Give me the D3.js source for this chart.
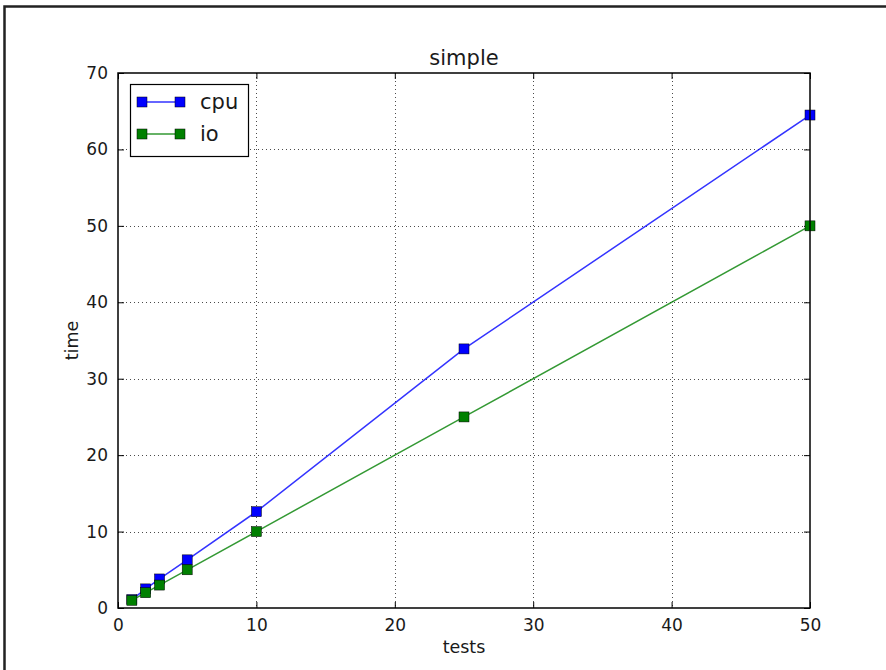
<!doctype html>
<html lang="en">
  <head>
    <meta charset="utf-8">
    <title>simple</title>
    <script src="https://d3js.org/d3.v7.min.js"></script>
    <style>
      body { margin: 0; background: #fff; }
      text { font-family: "DejaVu Sans", sans-serif; fill: #1a1a1a; }
    </style>
  </head>
  <body>
    <svg width="886" height="670"></svg>

    <script>
      var tests = [1, 2, 3, 5, 10, 25, 50];
      var cpuTimes = [1.1, 2.5, 3.8, 6.3, 12.6, 33.9, 64.5];
      var ioTimes = [1, 2, 3, 5, 10, 25, 50];
      var xTicks = [0, 10, 20, 30, 40, 50];
      var yTicks = [0, 10, 20, 30, 40, 50, 60, 70];

      var series = [
        { name: 'cpu', values: cpuTimes, color: '#0000ff' },
        { name: 'io', values: ioTimes, color: '#008000' }
      ];

      var svg = d3.select('svg');

      // outer frame of the picture (top and left edges only)
      svg.append('path')
          .attr('d', 'M4.5,670 V6.5 H886')
          .attr('fill', 'none').attr('stroke', '#222').attr('stroke-width', 2.5);

      var plotLeft = 118, plotRight = 810, plotTop = 73, plotBottom = 608;

      var x = d3.scaleLinear().domain([0, 50]).range([plotLeft, plotRight]);
      var y = d3.scaleLinear().domain([0, 70]).range([plotBottom, plotTop]);

      // grid
      var grid = svg.append('g')
          .attr('stroke', '#000').attr('stroke-width', 1)
          .attr('stroke-dasharray', '1,3').attr('opacity', 0.7);
      grid.selectAll('.gx').data(xTicks.slice(1, -1)).enter().append('line')
          .attr('x1', function(d){ return Math.round(x(d)) + 0.5; })
          .attr('x2', function(d){ return Math.round(x(d)) + 0.5; })
          .attr('y1', plotTop).attr('y2', plotBottom);
      grid.selectAll('.gy').data(yTicks.slice(1, -1)).enter().append('line')
          .attr('y1', function(d){ return Math.round(y(d)) + 0.5; })
          .attr('y2', function(d){ return Math.round(y(d)) + 0.5; })
          .attr('x1', plotLeft).attr('x2', plotRight);

      // axes with inward ticks on all sides
      var tickStyle = function(g){
        g.select('.domain').remove();
        g.selectAll('text').style('font-size', '17px').style('font-family', '"DejaVu Sans", sans-serif')
            .attr('fill', '#1a1a1a');
        g.selectAll('line').attr('stroke', '#000');
      };

      svg.append('g').attr('transform', 'translate(0,' + plotBottom + ')')
          .call(d3.axisBottom(x).tickValues(xTicks).tickSizeInner(-6).tickPadding(11).tickSizeOuter(0))
          .call(tickStyle);
      svg.append('g').attr('transform', 'translate(0,' + plotTop + ')')
          .call(d3.axisTop(x).tickValues(xTicks).tickSizeInner(-6).tickFormat('').tickSizeOuter(0))
          .call(tickStyle);
      svg.append('g').attr('transform', 'translate(' + plotLeft + ',0)')
          .call(d3.axisLeft(y).tickValues(yTicks).tickSizeInner(-6).tickPadding(10).tickSizeOuter(0))
          .call(tickStyle);
      svg.append('g').attr('transform', 'translate(' + plotRight + ',0)')
          .call(d3.axisRight(y).tickValues(yTicks).tickSizeInner(-6).tickFormat('').tickSizeOuter(0))
          .call(tickStyle);

      // lines and markers
      var line = d3.line()
          .x(function(d){ return x(d[0]); })
          .y(function(d){ return y(d[1]); });

      series.forEach(function(s){
        var pts = tests.map(function(t, i){ return [t, s.values[i]]; });
        svg.append('path')
            .attr('d', line(pts))
            .attr('fill', 'none')
            .attr('stroke', s.color)
            .attr('stroke-opacity', 0.8)
            .attr('stroke-width', 1.5);
        svg.append('g').selectAll('rect').data(pts).enter().append('rect')
            .attr('x', function(d){ return x(d[0]) - 5; })
            .attr('y', function(d){ return y(d[1]) - 5; })
            .attr('width', 10).attr('height', 10)
            .attr('fill', s.color)
            .attr('stroke', '#000').attr('stroke-width', 0.5);
      });

      // plot frame
      svg.append('rect')
          .attr('x', plotLeft).attr('y', plotTop)
          .attr('width', plotRight - plotLeft).attr('height', plotBottom - plotTop)
          .attr('fill', 'none').attr('stroke', '#000').attr('stroke-width', 1.5);

      // labels
      svg.append('text').attr('x', (plotLeft + plotRight) / 2).attr('y', 65)
          .attr('text-anchor', 'middle').style('font-size', '21px').text('simple');
      svg.append('text').attr('x', (plotLeft + plotRight) / 2).attr('y', 653)
          .attr('text-anchor', 'middle').style('font-size', '17.5px').text('tests');
      svg.append('text')
          .attr('transform', 'translate(78,' + ((plotTop + plotBottom) / 2) + ') rotate(-90)')
          .attr('text-anchor', 'middle').style('font-size', '17.5px').text('time');

      // legend
      var legend = svg.append('g');
      legend.append('rect')
          .attr('x', 130.5).attr('y', 84.5).attr('width', 118).attr('height', 72)
          .attr('fill', '#fff').attr('stroke', '#000').attr('stroke-width', 1.2);
      series.forEach(function(s, i){
        var ly = 102 + i * 32;
        legend.append('line')
            .attr('x1', 142).attr('x2', 180).attr('y1', ly).attr('y2', ly)
            .attr('stroke', s.color).attr('stroke-opacity', 0.8).attr('stroke-width', 1.5);
        [142, 180].forEach(function(mx){
          legend.append('rect')
              .attr('x', mx - 5).attr('y', ly - 5).attr('width', 10).attr('height', 10)
              .attr('fill', s.color).attr('stroke', '#000').attr('stroke-width', 0.5);
        });
        legend.append('text').attr('x', 200).attr('y', ly + 7)
            .style('font-size', '21px').text(s.name);
      });
    </script>
  </body>
</html>
